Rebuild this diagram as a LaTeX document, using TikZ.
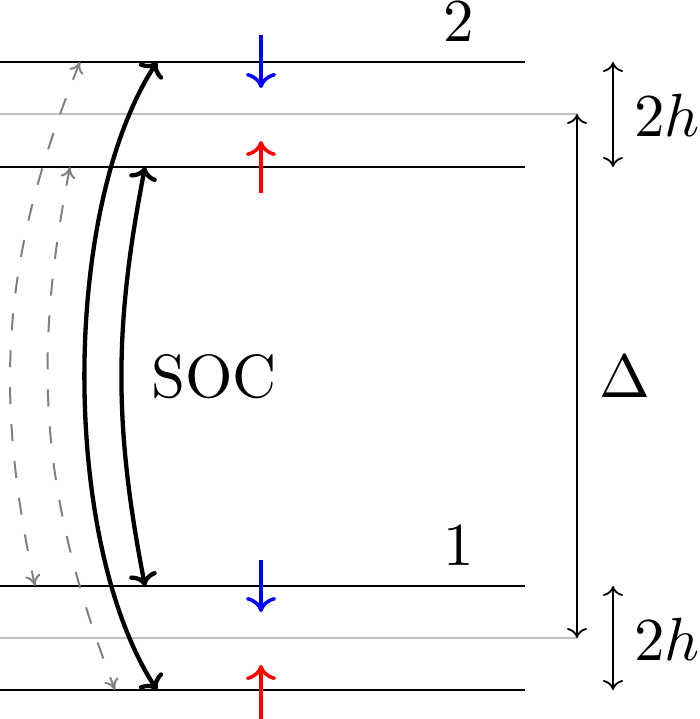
\documentclass[tikz,border=0pt]{standalone}
\usepackage{graphicx}
\usetikzlibrary{arrows.meta}
\newcommand{\biglab}[1]{\scalebox{6.1}{#1}}
\tikzset{
  level/.style={line width=2pt,black},
  midlevel/.style={line width=2pt,black!25},
  thinarrow/.style={line width=1.8pt,{Computer Modern Rightarrow[length=10pt,width=20pt]}-{Computer Modern Rightarrow[length=10pt,width=20pt]}},
  spin/.style={line width=3.5pt,-{Computer Modern Rightarrow[length=15pt,width=30pt]}},
  soc/.style={line width=4.3pt,{Computer Modern Rightarrow[length=13pt,width=28pt]}-{Computer Modern Rightarrow[length=13pt,width=28pt]}},
  flip/.style={line width=2pt,gray,dash pattern=on 17pt off 20pt,{Computer Modern Rightarrow[length=11pt,width=15pt]}-{Computer Modern Rightarrow[length=11pt,width=15pt]}},
  lab/.style={inner sep=0pt,anchor=base,font=\fontsize{10}{12}\selectfont}
}
\begin{document}
\begin{tikzpicture}[x=1pt,y=1pt]
\useasboundingbox (0,0) rectangle (700,-719);
% level end points
\coordinate (a2L) at (0,-62);   \coordinate (a2R) at (525,-62);
\coordinate (g2L) at (0,-114);  \coordinate (g2R) at (577,-114);
\coordinate (b2L) at (0,-167);  \coordinate (b2R) at (525,-167);
\coordinate (a1L) at (0,-586);  \coordinate (a1R) at (525,-586);
\coordinate (g1L) at (0,-638);  \coordinate (g1R) at (577,-638);
\coordinate (b1L) at (0,-690);  \coordinate (b1R) at (525,-690);
% levels
\draw[midlevel] (g2L) -- (g2R);
\draw[midlevel] (g1L) -- (g1R);
\draw[level] (a2L) -- (a2R);
\draw[level] (b2L) -- (b2R);
\draw[level] (a1L) -- (a1R);
\draw[level] (b1L) -- (b1R);
% Delta and 2h arrows
\draw[thinarrow] (g2R) -- (g1R);
\coordinate (h2t) at (613,-62);  \coordinate (h2b) at (613,-167);
\coordinate (h1t) at (613,-586); \coordinate (h1b) at (613,-690);
\draw[thinarrow] (h2t) -- (h2b);
\draw[thinarrow] (h1t) -- (h1b);
% spins
\coordinate (s2dA) at (261,-35);  \coordinate (s2dB) at (261,-88);
\coordinate (s2uA) at (261,-193); \coordinate (s2uB) at (261,-141);
\coordinate (s1dA) at (261,-560); \coordinate (s1dB) at (261,-612);
\coordinate (s1uA) at (261,-719); \coordinate (s1uB) at (261,-665);
\draw[spin,blue] (s2dA) -- (s2dB);
\draw[spin,red] (s2uA) -- (s2uB);
\draw[spin,blue] (s1dA) -- (s1dB);
\draw[spin,red] (s1uA) -- (s1uB);
% SOC arrows
\coordinate (o2) at (157,-62);  \coordinate (o1) at (157,-690);
\coordinate (i2) at (145,-167); \coordinate (i1) at (145,-586);
\draw[soc] (o2) to[out=237,in=123,looseness=0.72] (o1);
\draw[soc] (i2) to[bend right=11] (i1);
% dashed spin-flip arrows
\coordinate (dA2) at (80,-62);  \coordinate (dA1) at (35,-586);
\coordinate (dB2) at (70,-167); \coordinate (dB1) at (115,-690);
\draw[flip] (dA2) to[bend right=17] (dA1);
\draw[flip] (dB2) to[bend right=16] (dB1);
% labels
\node[lab] (n2) at (459,-42) {\biglab{2}};
\node[lab] (n1) at (459,-565) {\biglab{1}};
\node[lab] (soclab) at (214,-397) {\biglab{SOC}};
\node[lab] (dlab) at (624.5,-397) {\biglab{$\Delta$}};
\node[lab] (hlab2) at (667,-137) {\biglab{$2h$}};
\node[lab] (hlab1) at (667,-660) {\biglab{$2h$}};
\end{tikzpicture}
\end{document}
